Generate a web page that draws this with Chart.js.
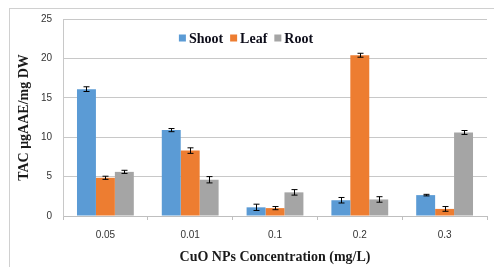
<!DOCTYPE html>
<html>
<head>
<meta charset="utf-8">
<script src="https://cdn.jsdelivr.net/npm/chart.js@4"></script>
<style>
  html, body { margin: 0; padding: 0; background: #fff; }
  #wrap { position: relative; width: 494px; height: 267px; }
</style>
</head>
<body>
<div id="wrap"><canvas id="chart" width="494" height="267"></canvas></div>
<script>
const categories = ["0.05", "0.01", "0.1", "0.2", "0.3"]
const shoot = [16.1, 10.9, 1.1, 2.0, 2.65]
const leaf = [4.85, 8.3, 1.0, 20.4, 0.9]
const root = [5.6, 4.6, 3.0, 2.1, 10.6]
const shootErr = [0.3, 0.2, 0.4, 0.35, 0.1]
const leafErr = [0.2, 0.35, 0.2, 0.25, 0.3]
const rootErr = [0.2, 0.4, 0.35, 0.35, 0.25]
const yTicks = [0, 5, 10, 15, 20, 25]

const errors = [shootErr, leafErr, rootErr]

const frame = {
  id: "frame",
  beforeDraw(chart) {
    const ctx = chart.ctx
    ctx.save()
    ctx.strokeStyle = "#d0d0d0"
    ctx.lineWidth = 1
    ctx.strokeRect(9.5, 8.5, 600, 400)
    ctx.restore()
  }
}

const errorBars = {
  id: "errorBars",
  afterDatasetsDraw(chart) {
    const ctx = chart.ctx
    const y = chart.scales.y
    ctx.save()
    ctx.strokeStyle = "#000"
    ctx.lineWidth = 1
    chart.data.datasets.forEach((ds, i) => {
      chart.getDatasetMeta(i).data.forEach((bar, j) => {
        const v = ds.data[j], e = errors[i][j]
        const x = Math.round(bar.x) + 0.5
        const top = y.getPixelForValue(v + e)
        const bot = y.getPixelForValue(v - e)
        ctx.beginPath()
        ctx.moveTo(x, top); ctx.lineTo(x, bot)
        ctx.moveTo(x - 3, top); ctx.lineTo(x + 3, top)
        ctx.moveTo(x - 3, bot); ctx.lineTo(x + 3, bot)
        ctx.stroke()
      })
    })
    ctx.restore()
  }
}

new Chart(document.getElementById("chart"), {
  type: "bar",
  data: {
    labels: categories,
    datasets: [
      { label: "Shoot", data: shoot, backgroundColor: "#5B9BD5" },
      { label: "Leaf", data: leaf, backgroundColor: "#ED7D31" },
      { label: "Root", data: root, backgroundColor: "#A5A5A5" }
    ]
  },
  options: {
    responsive: false,
    animation: false,
    layout: { padding: { top: 19, right: 7, left: 0, bottom: 0 } },
    datasets: { bar: { categoryPercentage: 0.67, barPercentage: 1.0 } },
    plugins: {
      legend: { display: false },
      tooltip: { enabled: false }
    },
    scales: {
      x: {
        afterFit(scale) { scale.height = 51 },
        grid: { display: true, drawOnChartArea: false, drawTicks: true, tickLength: 4, color: "#bfbfbf" },
        border: { color: "#bfbfbf" },
        ticks: { color: "#333", font: { family: "Liberation Sans", size: 10 }, padding: 9 },
        title: {
          display: true,
          text: "CuO NPs Concentration (mg/L)",
          color: "#1a1a1a",
          font: { family: "Liberation Serif", size: 14, weight: "bold" },
          padding: { top: 0, bottom: 1 }
        }
      },
      y: {
        min: 0,
        max: 25,
        afterFit(scale) { scale.width = 63 },
        afterBuildTicks(scale) { scale.ticks = yTicks.map(v => ({ value: v })) },
        grid: { color: "#c8c8c8", drawTicks: false },
        border: { color: "#c8c8c8" },
        ticks: { color: "#333", font: { family: "Liberation Sans", size: 10 }, padding: 11 },
        title: {
          display: true,
          text: "TAC μgAAE/mg DW",
          color: "#1a1a1a",
          font: { family: "Liberation Serif", size: 14, weight: "bold" },
          padding: { top: 16, bottom: 0 }
        }
      }
    }
  },
  plugins: [frame, errorBars, {
    id: "innerLegend",
    afterDraw(chart) {
      const ctx = chart.ctx
      const items = chart.data.datasets
      ctx.save()
      ctx.font = "bold 14px 'Liberation Serif'"
      ctx.textBaseline = "middle"
      const box = 7, gap = 3, spacing = 7
      const widths = items.map(d => box + gap + ctx.measureText(d.label).width)
      const total = widths.reduce((a, b) => a + b, 0) + spacing * (items.length - 1)
      let x = 246 - total / 2
      const y = 38
      items.forEach((d, i) => {
        ctx.fillStyle = d.backgroundColor
        ctx.fillRect(x, y - box / 2, box, box)
        ctx.fillStyle = "#0d0d1a"
        ctx.fillText(d.label, x + box + gap, y + 1)
        x += widths[i] + spacing
      })
      ctx.restore()
    }
  }]
})
</script>
</body>
</html>
